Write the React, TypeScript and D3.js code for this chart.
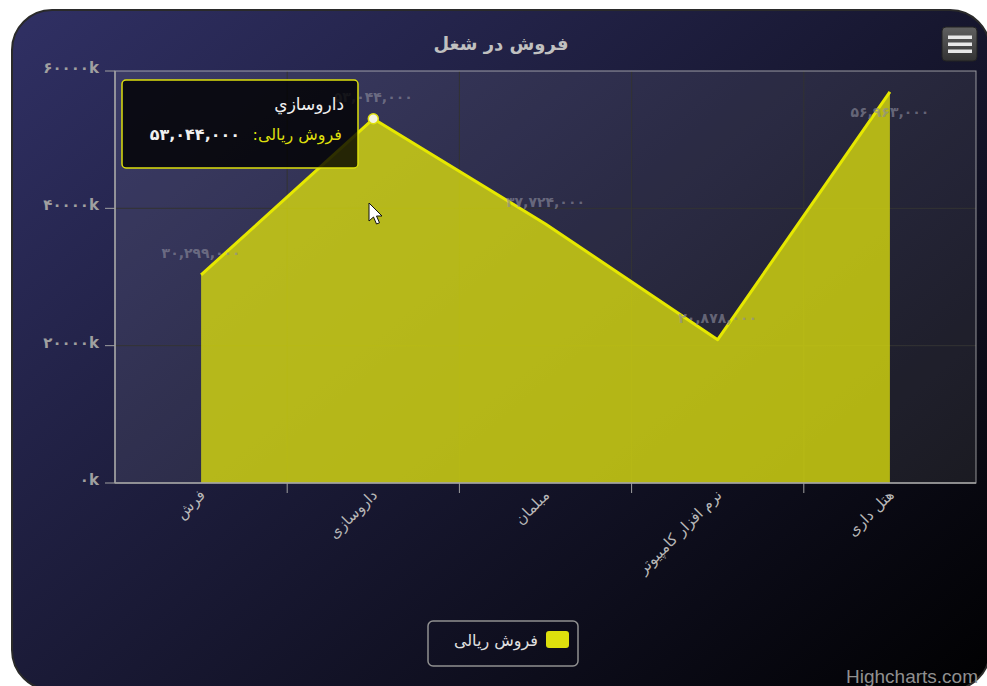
import React from "react";
import * as d3 from "d3";

const categories = ["فرش", "داروسازی", "مبلمان", "نرم افزار کامپیوتر", "هتل داری"];
const salesValues = [30299000, 53044000, 37724000, 20878000, 56963000];
const yTickValues = [0, 20000000, 40000000, 60000000];
const titleText = "فروش در شغل";
const seriesName = "فروش ریالی";
const tooltipCategory = "داروسازي";
const tooltipIndex = 1;
const creditsText = "Highcharts.com";

const W = 987;
const H = 686;
const FA = "۰۱۲۳۴۵۶۷۸۹";
const fa = (s: string) => s.replace(/\d/g, (d) => FA[+d]);
const FONT = "Tahoma, 'DejaVu Sans', sans-serif";

export default function App() {
  const plot = { left: 115, right: 976, top: 71, bottom: 483 };
  const x = d3.scaleBand<string>().domain(categories).range([plot.left, plot.right]);
  const y = d3.scaleLinear().domain([0, 60000000]).range([plot.bottom, plot.top]);
  const cx = (c: string) => (x(c) as number) + x.bandwidth() / 2;
  const pts: [number, number][] = categories.map((c, i) => [cx(c), y(salesValues[i])]);
  const area = d3.area<[number, number]>().x((d) => d[0]).y0(plot.bottom).y1((d) => d[1])(pts) as string;
  const line = d3.line<[number, number]>()(pts) as string;
  const boundaries = categories.slice(1).map((c) => x(c) as number);
  const fmt = d3.format(",");
  const color = "#DDDF0D";
  const tp = pts[tooltipIndex];
  const labelY = (py: number) => (py - 17 - 12 < plot.top ? py + 25 : py - 17);

  return (
    <div style={{ position: "absolute", left: 0, top: 0 }}>
      <svg width={W} height={H} style={{ display: "block", fontFamily: FONT }}>
        <defs>
          <linearGradient id="bg" gradientUnits="userSpaceOnUse" x1={12} y1={10} x2={760} y2={900}>
            <stop offset="0" stopColor="rgb(48,48,100)" />
            <stop offset="1" stopColor="rgb(0,0,0)" />
          </linearGradient>
          <linearGradient id="btn" x1="0" y1="0" x2="0" y2="1">
            <stop offset="0" stopColor="#606060" />
            <stop offset="1" stopColor="#333333" />
          </linearGradient>
        </defs>
        <rect x={0} y={0} width={W} height={H} fill="#ffffff" />
        <rect x={12} y={10} width={978} height={680} rx={40} ry={40} fill="url(#bg)" stroke="#2a2a2a" strokeWidth={2} />

        {/* title */}
        <text x={501} y={50} textAnchor="middle" fill="#C0C0C0" fontSize={18} fontWeight="bold">{titleText}</text>

        {/* menu button */}
        <rect x={942} y={27} width={35} height={34} rx={4} fill="url(#btn)" stroke="#222" strokeWidth={1} />
        {[37, 44, 51].map((yy) => (
          <rect key={yy} x={948} y={yy - 1.5} width={24} height={3.5} fill="#e8e8e8" />
        ))}

        {/* plot background */}
        <rect x={plot.left} y={plot.top} width={plot.right - plot.left} height={plot.bottom - plot.top} fill="rgba(255,255,255,0.08)" />
        {/* grid */}
        {yTickValues.slice(1, -1).map((v) => (
          <line key={v} x1={plot.left} x2={plot.right} y1={y(v)} y2={y(v)} stroke="#333333" strokeWidth={1} />
        ))}
        {boundaries.map((b) => (
          <line key={b} x1={b} x2={b} y1={plot.top} y2={plot.bottom} stroke="#333333" strokeWidth={1} />
        ))}

        {/* series */}
        <path d={area} fill={color} fillOpacity={0.78} />
        <path d={line} fill="none" stroke="#e6e800" strokeWidth={3} strokeLinejoin="round" />

        {/* plot border */}
        <rect x={plot.left} y={plot.top} width={plot.right - plot.left} height={plot.bottom - plot.top} fill="none" stroke="#CCCCCC" strokeWidth={1} opacity={0.7} />

        {/* data labels */}
        {pts.map((p, i) => (
          <text key={i} x={p[0]} y={labelY(p[1])} textAnchor="middle" fill="#8a8a9a" fillOpacity={0.65} fontSize={14} fontWeight="bold" letterSpacing={1.5}>
            {fa(fmt(salesValues[i]))}
          </text>
        ))}

        {/* y axis */}
        <line x1={plot.left} x2={plot.left} y1={plot.top} y2={plot.bottom} stroke="#A0A0A0" strokeWidth={1.5} />
        {yTickValues.map((v) => (
          <g key={v}>
            <line x1={plot.left - 10} x2={plot.left} y1={y(v)} y2={y(v)} stroke="#A0A0A0" strokeWidth={1} />
            <text x={plot.left - 12} y={y(v) + 2} textAnchor="end" fill="#A0A0A0" fontSize={15} fontWeight="bold" letterSpacing={4}>
              {fa(String(v / 1000)) + "k"}
            </text>
          </g>
        ))}

        {/* x axis */}
        <line x1={plot.left} x2={plot.right} y1={plot.bottom} y2={plot.bottom} stroke="#A0A0A0" strokeWidth={1.5} />
        {boundaries.map((b) => (
          <line key={b} x1={b} x2={b} y1={plot.bottom} y2={plot.bottom + 10} stroke="#A0A0A0" strokeWidth={1} />
        ))}
        {categories.map((c) => (
          <text key={c} transform={`translate(${cx(c) + 5},${plot.bottom + 13}) rotate(-45)`} textAnchor="end" fill="#B8B8B8" fontSize={15} letterSpacing={0.5}>
            {c}
          </text>
        ))}

        {/* hover marker */}
        <circle cx={tp[0]} cy={tp[1]} r={5} fill="#f4f4e0" stroke={color} strokeWidth={1.5} />

        {/* tooltip */}
        <rect x={122} y={80} width={236} height={88} rx={4} fill="rgba(0,0,0,0.8)" stroke={color} strokeWidth={1.5} />
        <text x={344} y={110} textAnchor="end" fill="#F0F0F0" fontSize={17}>{tooltipCategory}</text>
        <text x={342} y={140} textAnchor="end" fill={color} fontSize={16}>{seriesName + ":\u200F"}</text>
        <text x={240} y={140} textAnchor="end" fill="#F0F0F0" fontSize={16} fontWeight="bold" letterSpacing={1.5}>
          {fa(fmt(salesValues[tooltipIndex]))}
        </text>

        {/* cursor */}
        <path
          transform="translate(369,203)"
          d="M0,0 L0,18 L4.5,14 L7.5,21 L10.5,19.8 L7.5,13 L13,13 Z"
          fill="#ffffff"
          stroke="#111"
          strokeWidth={1}
        />

        {/* legend */}
        <rect x={428} y={621} width={150} height={45} rx={5} fill="none" stroke="#909090" strokeWidth={1.5} />
        <rect x={546} y={631} width={23} height={17} rx={3} fill={color} />
        <text x={538} y={646} textAnchor="end" fill="#E0E0E0" fontSize={16}>{seriesName}</text>

        {/* credits */}
        <text x={978} y={683} textAnchor="end" fill="#909090" fontSize={19} fontFamily="'Liberation Sans', Arial, sans-serif">
          {creditsText}
        </text>
      </svg>
    </div>
  );
}
